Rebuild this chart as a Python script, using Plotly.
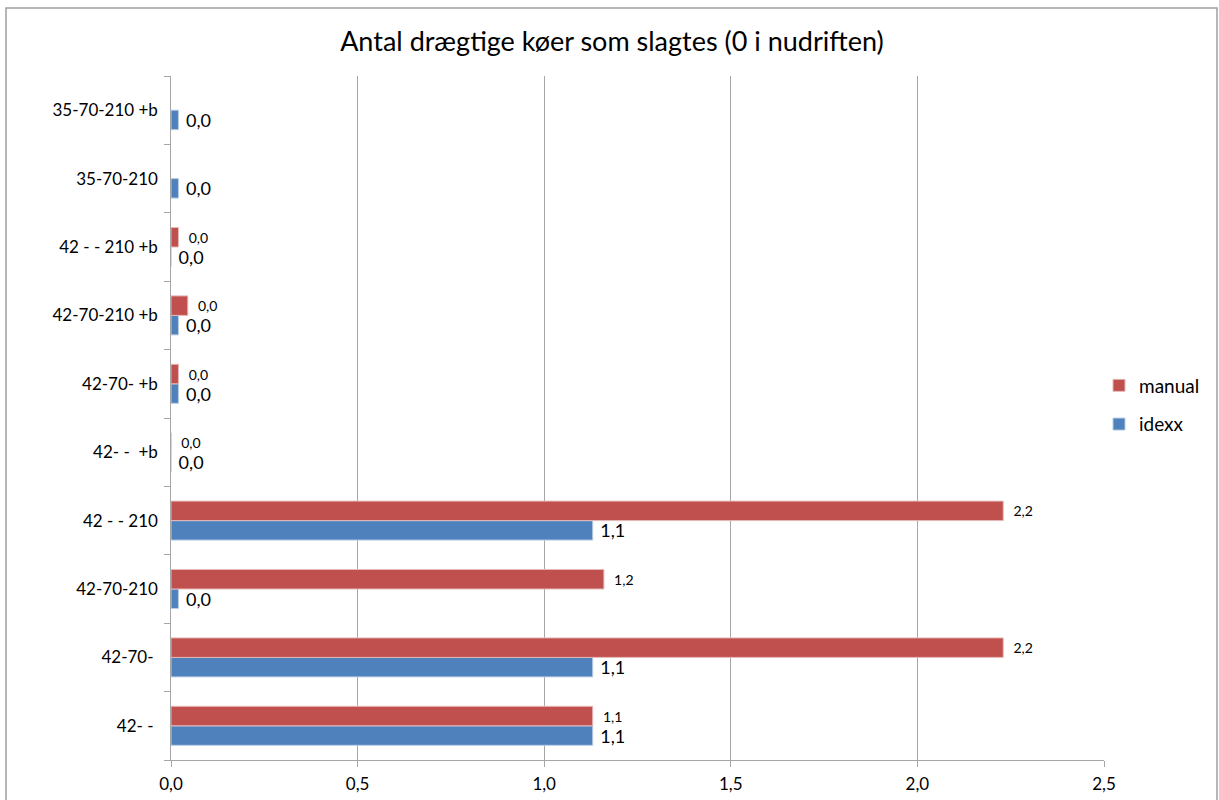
import plotly.graph_objects as go

# Categories listed from the bottom of the chart upward
categories = [
    "42- - ", "42-70- ", "42-70-210", "42 - - 210", "42- -  +b",
    "42-70- +b", "42-70-210 +b", "42 - - 210 +b", "35-70-210", "35-70-210 +b",
]
idexx = [1.13, 1.13, 0.02, 1.13, 0.0, 0.02, 0.02, 0.0, 0.02, 0.02]
manual = [1.13, 2.23, 1.16, 2.23, 0.0, 0.02, 0.045, 0.02, None, None]

x_ticks = [0.0, 0.5, 1.0, 1.5, 2.0, 2.5]


def label(values, pad):
    return ["" if v is None else pad + f"{v:.1f}".replace(".", ",") for v in values]


FONT = "Lato, 'Open Sans', sans-serif"
GRID = "#A6A6A6"

fig = go.Figure()
fig.add_trace(go.Bar(
    name="idexx", legendgroup="idexx", legendrank=2,
    y=categories, x=idexx, orientation="h",
    marker=dict(color="#4F81BD", line=dict(color="#B9CDE5", width=1)),
    text=label(idexx, " "), textposition="outside", constraintext="none",
    textfont=dict(size=18, color="#000000", family=FONT),
    cliponaxis=False,
))
fig.add_trace(go.Bar(
    name="manual", legendgroup="manual", legendrank=1,
    y=categories, x=manual, orientation="h",
    marker=dict(color="#C0504D", line=dict(color="#E6B9B8", width=1)),
    text=label(manual, "  "), textposition="outside", constraintext="none",
    textfont=dict(size=14, color="#000000", family=FONT),
    cliponaxis=False,
))

fig.update_layout(
    width=1219, height=800,
    paper_bgcolor="white", plot_bgcolor="white",
    margin=dict(l=171, r=115, t=76, b=40, autoexpand=False),
    separators=",.",
    barmode="group", bargap=0.43, bargroupgap=0.0,
    font=dict(family=FONT, color="#000000"),
    title=dict(
        text="Antal drægtige køer som slagtes (0 i nudriften)",
        x=0.502, xref="container", xanchor="center",
        y=1 - 42 / 800, yref="container", yanchor="middle",
        font=dict(size=27, family=FONT, color="#000000"),
    ),
    legend=dict(
        x=1099 / 1219, y=1 - 405 / 800, xref="container", yref="container",
        xanchor="left", yanchor="middle",
        traceorder="grouped", font=dict(size=19, family=FONT),
        itemwidth=30, tracegroupgap=11,
    ),
    xaxis=dict(
        range=[0, 2.5], tickvals=x_ticks, tickformat=".1f",
        showgrid=True, gridcolor=GRID, gridwidth=1,
        showline=True, linecolor=GRID, linewidth=1,
        ticks="outside", ticklen=6, tickcolor=GRID,
        ticklabelstandoff=3,
        tickfont=dict(size=17, family=FONT), zeroline=False,
    ),
    yaxis=dict(
        categoryorder="array", categoryarray=categories,
        showgrid=False, showline=True, linecolor=GRID, linewidth=1,
        ticks="outside", ticklen=6, tickcolor=GRID, tickson="boundaries",
        tickfont=dict(size=17, family=FONT), ticksuffix="  ",
    ),
    shapes=[dict(
        type="rect", xref="paper", yref="paper",
        x0=(6 - 171) / 933, x1=(1217 - 171) / 933,
        y0=(760 - 806) / 684, y1=(760 - 8) / 684,
        line=dict(color="#9E9E9E", width=1.5), layer="below",
    )],
)

fig.write_html("out.html")
